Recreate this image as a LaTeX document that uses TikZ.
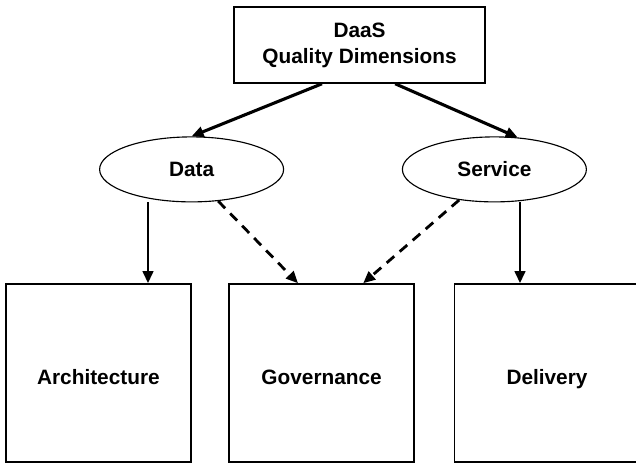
\documentclass[tikz,border=0pt]{standalone}
\usepackage{fontspec}
\setmainfont{Liberation Sans}
\usetikzlibrary{
    shapes.geometric,
    arrows.meta,
    positioning,
    calc
}

\begin{document}
\begin{tikzpicture}[
        block/.style={draw, line width=1.1pt, minimum width=#1, align=center,
            font=\fontsize{14.8}{18.5}\selectfont\bfseries},
        bigblock/.style={block=4.625cm, minimum height=4.45cm, text height=20pt, text depth=3pt},
        oval/.style={draw, ellipse, line width=0.8pt, minimum width=4.6cm, minimum height=1.625cm,
            font=\fontsize{14.8}{18.5}\selectfont\bfseries},
        arrow/.style={-{Triangle[length=3mm, width=2.6mm]}, line width=#1},
        arrow/.default=1.9pt,
        dasharrow/.style={arrow=2pt, dash pattern=on 2.5mm off 1.8mm}
    ]
        \useasboundingbox (0,0) rectangle (15.9,11.575);

        % Top
        \node[block=6.275cm, minimum height=1.9cm] (top) at (8.99,10.45) {DaaS\\Quality Dimensions};

        % Ellipses
        \node[oval] (data) at (4.79,7.34) {Data};
        \node[oval] (service) at (12.36,7.34) {Service};

        % Bottom boxes
        \node[bigblock] (arch) at (2.46,2.25) {Architecture};
        \node[bigblock] (gov) at (8.04,2.25) {Governance};
        \node[bigblock] (deliv) at (13.675,2.25) {Delivery};

        % Arrows
        \draw[arrow=2.2pt] ([xshift=-0.94cm]top.south) -- (data.north);
        \draw[arrow=2.2pt] ([xshift=0.89cm]top.south) -- (service.54);
        \draw[arrow] ([xshift=-1.09cm]data.south) -- ([xshift=-1.09cm]data.south |- arch.north);
        \draw[arrow] ([xshift=0.64cm]service.south) -- ([xshift=0.64cm]service.south |- deliv.north);

        % Dashed
        \draw[dasharrow] (data.-50) -- ([xshift=-0.59cm]gov.north);
        \draw[dasharrow] (service.221) -- ([xshift=1.04cm]gov.north);

    \end{tikzpicture}
\end{document}
